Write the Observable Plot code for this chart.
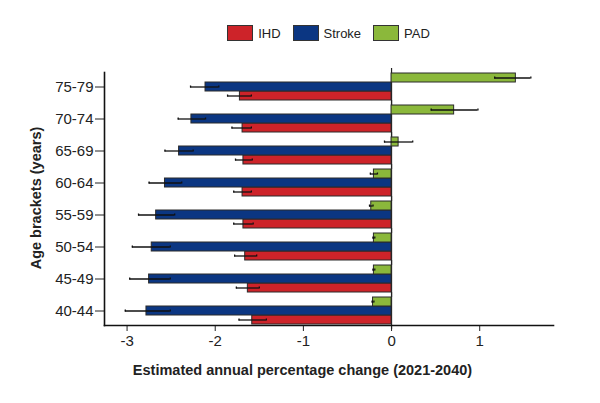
<!DOCTYPE html>
<html>
<head>
<meta charset="utf-8">
<script src="https://cdn.jsdelivr.net/npm/d3@7"></script>
<script src="https://cdn.jsdelivr.net/npm/@observablehq/plot@0.6"></script>
<style>
  html, body { margin: 0; padding: 0; background: #fff; }
  #chart { width: 600px; font-family: "Liberation Sans", Arial, sans-serif; color: #222; }
  .legend { height: 50px; box-sizing: border-box; padding: 25px 47px 0 104px;
            display: flex; justify-content: center; align-items: flex-start; font-size: 13px; }
  .legend .item { display: flex; align-items: center; margin: 0 6px; }
  .legend .sw { width: 26px; height: 16px; box-sizing: border-box; border: 1px solid #333; margin-right: 5px; }
  svg { display: block; }
</style>
</head>
<body>
<div id="chart"></div>
<script>
// Age brackets, bottom to top
const ages = ["40-44", "45-49", "50-54", "55-59", "60-64", "65-69", "70-74", "75-79"];
const diseases = ["IHD", "Stroke", "PAD"];
const colors = ["#cd2329", "#0b3682", "#8bb83b"];

// Estimated annual percentage change with 95% interval, per age bracket
const ihd      = [-1.58, -1.63, -1.66, -1.68, -1.69, -1.68, -1.69, -1.72];
const ihdLo    = [-1.73, -1.76, -1.78, -1.79, -1.79, -1.77, -1.81, -1.86];
const ihdHi    = [-1.42, -1.50, -1.53, -1.57, -1.59, -1.58, -1.59, -1.59];
const stroke   = [-2.78, -2.75, -2.72, -2.67, -2.57, -2.41, -2.27, -2.11];
const strokeLo = [-3.02, -2.97, -2.94, -2.87, -2.75, -2.57, -2.42, -2.28];
const strokeHi = [-2.51, -2.51, -2.51, -2.46, -2.38, -2.25, -2.11, -1.96];
const pad      = [-0.21, -0.20, -0.20, -0.23, -0.20, 0.08, 0.71, 1.41];
const padLo    = [-0.22, -0.21, -0.21, -0.25, -0.24, -0.08, 0.45, 1.17];
const padHi    = [-0.20, -0.19, -0.19, -0.21, -0.16, 0.24, 0.98, 1.58];

const xTicks = [-3, -2, -1, 0, 1];
const xTitle = "Estimated annual percentage change (2021-2040)";
const yTitle = "Age brackets (years)";

const series = {
  IHD: [ihd, ihdLo, ihdHi],
  Stroke: [stroke, strokeLo, strokeHi],
  PAD: [pad, padLo, padHi]
};
const rows = ages.flatMap((age, i) => diseases.map(d => ({
  age, disease: d, value: series[d][0][i], lo: series[d][1][i], hi: series[d][2][i]
})));

const chart = document.getElementById("chart");

// Legend
const legend = d3.select(chart).append("div").attr("class", "legend");
diseases.forEach((d, i) => {
  const it = legend.append("div").attr("class", "item");
  it.append("div").attr("class", "sw").style("background", colors[i]);
  it.append("span").text(d);
});

const plot = Plot.plot({
  width: 600,
  height: 353,
  marginTop: 12,
  marginBottom: 68,
  marginLeft: 104,
  marginRight: 47,
  style: { fontFamily: "'Liberation Sans', Arial, sans-serif", fontSize: "15px", color: "#222" },
  x: { domain: [-3.256, 1.837], ticks: xTicks, tickFormat: d => `${d}`, tickSize: 6, tickPadding: 4, label: null },
  y: { domain: ["PAD", "Stroke", "IHD"], padding: 0, axis: null },
  fy: { domain: ages.slice().reverse(), paddingInner: 0.1, paddingOuter: 0.19,
        axis: "left", tickSize: 9, tickPadding: 2, label: null },
  color: { domain: diseases, range: colors },
  marks: [
    // zero line, stretched over the gaps between age brackets
    Plot.ruleX([0], { stroke: "#222", strokeWidth: 1.2, insetTop: -4, insetBottom: -4 }),
    Plot.barX(rows, { fy: "age", y: "disease", x: "value", fill: "disease",
                      stroke: "#2a2a2a", strokeWidth: 1 }),
    Plot.ruleY(rows, { fy: "age", y: "disease", x1: "lo", x2: "hi", stroke: "#111", strokeWidth: 1.3 }),
    Plot.tickX(rows, { fy: "age", y: "disease", x: "lo", stroke: "#111", strokeWidth: 1.3, insetTop: 3.5, insetBottom: 3.5 }),
    Plot.tickX(rows, { fy: "age", y: "disease", x: "hi", stroke: "#111", strokeWidth: 1.3, insetTop: 3.5, insetBottom: 3.5 }),
    Plot.frame({ anchor: "left", facet: "super", stroke: "#111", strokeWidth: 1.6 }),
    Plot.frame({ anchor: "bottom", facet: "super", stroke: "#111", strokeWidth: 1.6 })
  ]
});
chart.appendChild(plot);

// Axis titles
const svg = d3.select(plot);
svg.append("text")
  .attr("x", 302.5).attr("y", 325)
  .attr("text-anchor", "middle")
  .attr("font-weight", "bold").attr("font-size", 14.5).attr("fill", "#222")
  .text(xTitle);
svg.append("text")
  .attr("transform", "translate(41,148) rotate(-90)")
  .attr("text-anchor", "middle")
  .attr("font-weight", "bold").attr("font-size", 14.5).attr("fill", "#222")
  .text(yTitle);
</script>
</body>
</html>
